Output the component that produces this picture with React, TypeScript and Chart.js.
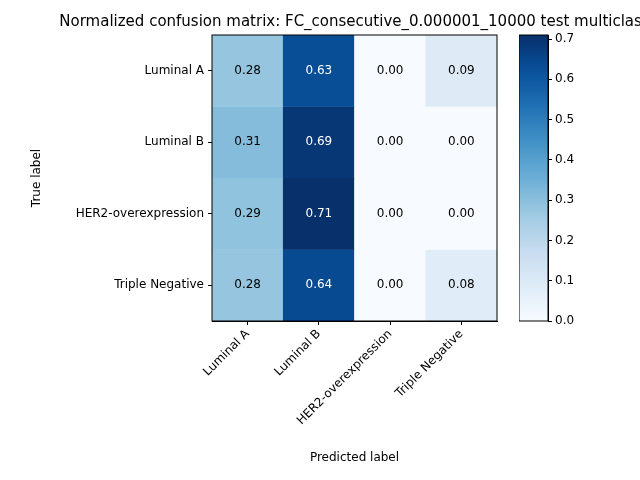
import React, { useEffect, useRef } from "react";
import { Chart, registerables } from "chart.js";
Chart.register(...registerables);

const classes = ["Luminal A", "Luminal B", "HER2-overexpression", "Triple Negative"];
const rowLuminalA = [0.28, 0.63, 0.0, 0.09];
const rowLuminalB = [0.31, 0.69, 0.0, 0.0];
const rowHER2 = [0.29, 0.71, 0.0, 0.0];
const rowTriple = [0.28, 0.64, 0.0, 0.08];
const matrix = [rowLuminalA, rowLuminalB, rowHER2, rowTriple];
const colorbarTicks = [0, 0.1, 0.2, 0.3, 0.4, 0.5, 0.6, 0.7];
const titleText = "Normalized confusion matrix: FC_consecutive_0.000001_10000 test multiclass";

const FONT = "'DejaVu Sans', sans-serif";
const blues = ["#f7fbff", "#deebf7", "#c6dbef", "#9ecae1", "#6baed6", "#4292c6", "#2171b5", "#08519c", "#08306b"];
const hex = (h: string) => [1, 3, 5].map((i) => parseInt(h.slice(i, i + 2), 16));
function cmap(t: number) {
  t = Math.max(0, Math.min(1, t));
  const p = t * (blues.length - 1);
  const i = Math.min(Math.floor(p), blues.length - 2);
  const f = p - i;
  const a = hex(blues[i]), b = hex(blues[i + 1]);
  const c = a.map((v, k) => Math.round(v + (b[k] - v) * f));
  return `rgb(${c[0]},${c[1]},${c[2]})`;
}
const vmax = Math.max(...matrix.flat());

export default function App() {
  const ref = useRef<HTMLCanvasElement>(null);
  const cbRef = useRef<HTMLCanvasElement>(null);
  useEffect(() => {
    const overlay = {
      id: "overlay",
      afterDatasetsDraw(chart: any) {
        const { ctx, chartArea, scales } = chart;
        ctx.save();
        ctx.font = `12px ${FONT}`;
        ctx.textAlign = "center";
        ctx.textBaseline = "middle";
        matrix.forEach((row, r) => {
          row.forEach((v, c) => {
            const x = scales.x.getPixelForValue(c);
            const y = scales.y.getPixelForValue(r + 0.5);
            ctx.fillStyle = v > vmax / 2 ? "#ffffff" : "#000000";
            ctx.fillText(v.toFixed(2), x, y);
          });
        });
        ctx.strokeStyle = "#000";
        ctx.lineWidth = 1;
        ctx.strokeRect(chartArea.left, chartArea.top, chartArea.right - chartArea.left, chartArea.bottom - chartArea.top);
        ctx.font = `15px ${FONT}`;
        ctx.fillStyle = "#000";
        ctx.textBaseline = "alphabetic";
        ctx.fillText(titleText, (chartArea.left + chartArea.right) / 2, 26);
        ctx.restore();
      },
    };
    const chart = new Chart(ref.current!, {
      type: "bar",
      data: {
        labels: classes,
        datasets: matrix.map((row, r) => ({
          label: classes[r],
          data: row.map(() => 1),
          backgroundColor: row.map((v) => cmap(v / vmax)),
          barPercentage: 1,
          categoryPercentage: 1,
          borderWidth: 0,
        })),
      },
      options: {
        animation: false,
        responsive: false,
        events: [],
        layout: { padding: { left: 30, right: 143, top: 35, bottom: 15 } },
        plugins: { legend: { display: false }, tooltip: { enabled: false }, title: { display: false } },
        scales: {
          x: {
            stacked: true,
            grid: { offset: false, drawOnChartArea: false, tickLength: 4, color: "#000" },
            border: { color: "#000" },
            ticks: { color: "#000", font: { family: FONT, size: 12 }, maxRotation: 45, minRotation: 45, padding: 2 },
            title: { display: true, text: "Predicted label", color: "#000", font: { family: FONT, size: 12 }, padding: 0 },
            afterFit: (s: any) => { s.height = 144; },
          },
          y: {
            stacked: true,
            min: 0,
            max: 4,
            reverse: true,
            afterBuildTicks: (s: any) => { s.ticks = [0.5, 1.5, 2.5, 3.5].map((v) => ({ value: v })); },
            grid: { drawOnChartArea: false, tickLength: 4, color: "#000" },
            border: { color: "#000" },
            ticks: { color: "#000", font: { family: FONT, size: 12 }, padding: 4, callback: (v: any) => classes[Math.floor(Number(v))] },
            title: { display: true, text: "True label", color: "#000", font: { family: FONT, size: 12 }, padding: 0 },
            afterFit: (s: any) => { s.width = 182; },
          },
        },
      },
      plugins: [overlay],
    });

    const cb = new Chart(cbRef.current!, {
      type: "bar",
      data: {
        labels: [""],
        datasets: [{
          data: [[0, vmax]] as any,
          barPercentage: 1,
          categoryPercentage: 1,
          borderWidth: 0,
          backgroundColor: (ctx: any) => {
            const area = ctx.chart.chartArea;
            if (!area) return blues[0];
            const g = ctx.chart.ctx.createLinearGradient(0, area.bottom, 0, area.top);
            for (let i = 0; i <= 20; i++) g.addColorStop(i / 20, cmap(i / 20));
            return g;
          },
        }],
      },
      options: {
        animation: false,
        responsive: false,
        events: [],
        layout: { padding: { top: 35, bottom: 159, left: 0, right: 0 } },
        plugins: { legend: { display: false }, tooltip: { enabled: false } },
        scales: {
          x: { display: false },
          y: {
            position: "right",
            min: 0,
            max: vmax,
            afterBuildTicks: (s: any) => { s.ticks = colorbarTicks.map((v) => ({ value: v })); },
            grid: { drawOnChartArea: false, tickLength: 4, color: "#000" },
            border: { color: "#000" },
            ticks: { color: "#000", font: { family: FONT, size: 12 }, padding: 3, callback: (v: any) => Number(v).toFixed(1) },
          },
        },
      },
      plugins: [{
        id: "cbBorder",
        afterDraw(c: any) {
          const a = c.chartArea;
          c.ctx.save();
          c.ctx.strokeStyle = "#000";
          c.ctx.strokeRect(a.left, a.top, a.right - a.left, a.bottom - a.top);
          c.ctx.restore();
        },
      }],
    });
    return () => { chart.destroy(); cb.destroy(); };
  }, []);
  return (
    <div style={{ position: "absolute", left: 0, top: 0, width: 640, height: 480, background: "#fff" }}>
      <canvas ref={ref} width={640} height={480} style={{ position: "absolute", left: 0, top: 0 }} />
      <canvas ref={cbRef} width={58} height={480} style={{ position: "absolute", left: 519, top: 0 }} />
    </div>
  );
}
